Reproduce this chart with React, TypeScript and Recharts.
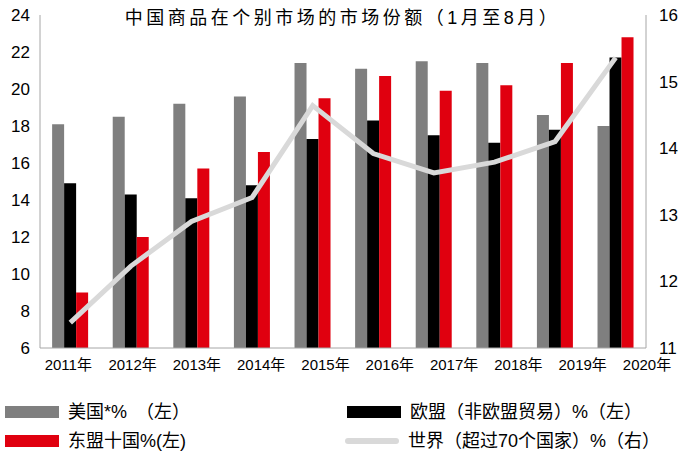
import { ComposedChart, Bar, Line, XAxis, YAxis } from "recharts";

const years = [
  "2011年", "2012年", "2013年", "2014年", "2015年",
  "2016年", "2017年", "2018年", "2019年", "2020年",
];
const usShare = [18.1, 18.5, 19.2, 19.6, 21.4, 21.1, 21.5, 21.4, 18.6, 18.0];
const euShare = [14.9, 14.3, 14.1, 14.8, 17.3, 18.3, 17.5, 17.1, 17.8, 21.7];
const aseanShare = [9.0, 12.0, 15.7, 16.6, 19.5, 20.7, 19.9, 20.2, 21.4, 22.8];
const worldShare = [11.38, 12.23, 12.9, 13.26, 14.64, 13.92, 13.63, 13.79, 14.1, 15.36];

const leftTicks = [6, 8, 10, 12, 14, 16, 18, 20, 22, 24];
const rightTicks = [11, 12, 13, 14, 15, 16];

const title = "中国商品在个别市场的市场份额（1月至8月）";
const legendLabels = {
  us: "美国*%　（左）",
  eu: "欧盟（非欧盟贸易）%（左）",
  asean: "东盟十国%(左)",
  world: "世界（超过70个国家）%（右）",
};

const GRAY = "#7f7f7f";
const BLACK = "#000000";
const RED = "#e0000f";
const LIGHT = "#d9d9d9";
const FONT = '"Liberation Sans", "Noto Sans CJK SC", sans-serif';

const data = years.map((year, i) => ({
  year,
  us: usShare[i],
  eu: euShare[i],
  asean: aseanShare[i],
  world: worldShare[i],
}));

// the year labels sit a bit right of their bar groups in the original, drifting with index
function YearTick(props: any) {
  const { x, y, payload, index } = props;
  const shift = index * 3.7 - 2;
  return (
    <text x={x + shift} y={y} dy={14} textAnchor="middle" fontSize={15} fill="#000" fontFamily={FONT}>
      {payload.value}
    </text>
  );
}

function Swatch({ color, line }: { color: string; line?: boolean }) {
  return (
    <span
      style={{
        display: "inline-block",
        width: 54,
        height: line ? 6 : 12,
        background: color,
        borderRadius: line ? 3 : 0,
        marginRight: 9,
        verticalAlign: "middle",
      }}
    />
  );
}

export default function App() {
  const legendText = { fontSize: 18, color: "#000", verticalAlign: "middle" };
  return (
    <div style={{ position: "absolute", left: 0, top: 0, width: 685, height: 456, fontFamily: FONT, background: "#fff" }}>
      <ComposedChart
        width={685}
        height={456}
        data={data}
        margin={{ top: 15, right: 0, bottom: 78, left: 0 }}
        barCategoryGap="20%"
        barGap={0}
      >
        <XAxis
          dataKey="year"
          height={30}
          tick={<YearTick />}
          tickLine={false}
          axisLine={{ stroke: "#a6a6a6" }}
          interval={0}
        />
        <YAxis
          yAxisId="left"
          width={40}
          domain={[6, 24]}
          ticks={leftTicks}
          tickLine={false}
          tickSize={0}
          tickMargin={10}
          axisLine={{ stroke: "#a6a6a6" }}
          tick={{ fontSize: 17, fill: "#000", fontFamily: FONT }}
          interval={0}
        />
        <YAxis
          yAxisId="right"
          orientation="right"
          width={39}
          domain={[11, 16]}
          ticks={rightTicks}
          tickLine={false}
          tickSize={0}
          tickMargin={13}
          axisLine={{ stroke: "#a6a6a6" }}
          tick={{ fontSize: 17, fill: "#000", fontFamily: FONT }}
          interval={0}
        />
        <Bar yAxisId="left" dataKey="us" fill={GRAY} isAnimationActive={false} />
        <Bar yAxisId="left" dataKey="eu" fill={BLACK} isAnimationActive={false} />
        <Bar yAxisId="left" dataKey="asean" fill={RED} isAnimationActive={false} />
        <Line
          yAxisId="right"
          dataKey="world"
          type="linear"
          stroke={LIGHT}
          strokeWidth={5}
          dot={false}
          isAnimationActive={false}
        />
      </ComposedChart>

      <div
        style={{
          position: "absolute",
          left: 0,
          width: 685,
          top: 6,
          textAlign: "center",
          fontSize: 18,
          letterSpacing: 3.5,
          lineHeight: "24px",
          color: "#000",
        }}
      >
        {title}
      </div>

      <div style={{ position: "absolute", left: 5, top: 399, lineHeight: "24px", whiteSpace: "nowrap" }}>
        <Swatch color={GRAY} />
        <span style={legendText}>{legendLabels.us}</span>
      </div>
      <div style={{ position: "absolute", left: 347, top: 399, lineHeight: "24px", whiteSpace: "nowrap" }}>
        <Swatch color={BLACK} />
        <span style={legendText}>{legendLabels.eu}</span>
      </div>
      <div style={{ position: "absolute", left: 5, top: 428, lineHeight: "24px", whiteSpace: "nowrap" }}>
        <Swatch color={RED} />
        <span style={legendText}>{legendLabels.asean}</span>
      </div>
      <div style={{ position: "absolute", left: 345, top: 428, lineHeight: "24px", whiteSpace: "nowrap" }}>
        <Swatch color={LIGHT} line />
        <span style={legendText}>{legendLabels.world}</span>
      </div>
    </div>
  );
}
